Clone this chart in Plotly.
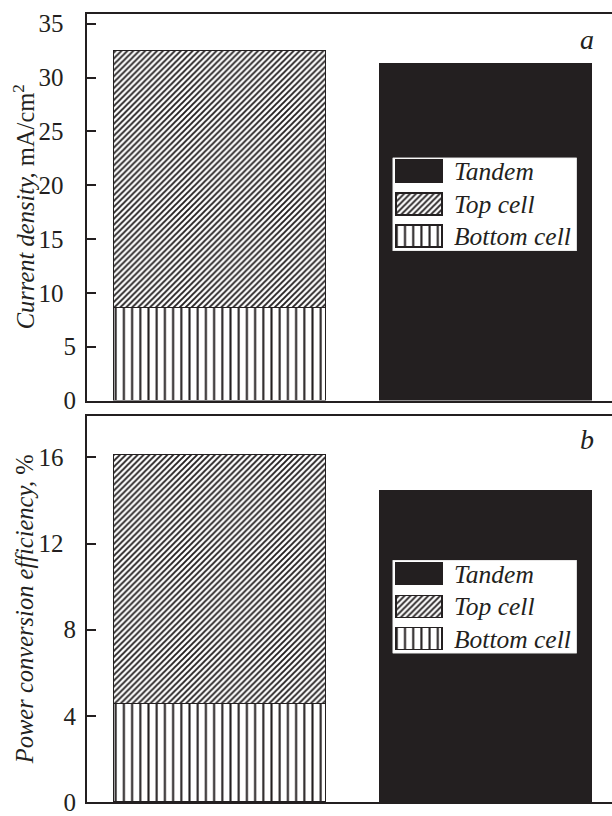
import plotly.graph_objects as go

# ---- data ----
panels = ["a", "b"]
categories = [0, 1]  # 0: single-junction stack (bottom + top), 1: tandem
bottom_cell = [8.6, 4.55]      # mA/cm2 , %
top_cell = [23.9, 11.55]       # stacked above bottom cell
tandem = [31.3, 14.4]
y_titles = ["<i>Current density,</i> mA/cm<sup>2</sup>", "<i>Power conversion efficiency,</i> %"]
y_ranges = [[0, 35.9], [0, 17.9]]
y_tickvals = [[0, 5, 10, 15, 20, 25, 30, 35], [0, 4, 8, 12, 16]]
y_ticktext = [["0", "5", "10\u2002", "15\u2002", "20\u2002", "25\u2002", "30\u2002", "35\u2002"],
              ["0", "4", "8", "12\u2002", "16\u2002"]]
legend_names = ["Tandem", "Top cell", "Bottom cell"]

INK = "#231f20"
FONT = "Liberation Serif"

W, H = 612, 816
ML, MR, MT, MB = 87, 0, 14, 7
PW = W - ML - MR
PH = H - MT - MB

def py(pix):
    return (H - MB - pix) / PH

def px(pix):
    return (pix - ML) / PW

panel_dom = [[py(404), py(14)], [py(809), py(420)]]
legend_box_top = [159, 565]
legend_box_h = 94
legend_x = [392.7, 576.7]

hatch_top = dict(shape="/", size=4.2, solidity=0.45, fgcolor=INK, bgcolor="white", fillmode="replace")
hatch_bottom = dict(shape="|", size=8.2, solidity=0.25, fgcolor=INK, bgcolor="white", fillmode="replace")
bar_line = dict(color=INK, width=1.5)

fig = go.Figure()

for i in range(2):
    xa = "x" if i == 0 else "x2"
    ya = "y" if i == 0 else "y2"
    fig.add_trace(go.Bar(x=[categories[0]], y=[bottom_cell[i]], width=0.8, xaxis=xa, yaxis=ya,
                         marker=dict(color="white", pattern=hatch_bottom, line=bar_line), showlegend=False))
    fig.add_trace(go.Bar(x=[categories[0]], y=[top_cell[i]], width=0.8, xaxis=xa, yaxis=ya,
                         marker=dict(color="white", pattern=hatch_top, line=bar_line), showlegend=False))
    fig.add_trace(go.Bar(x=[categories[1]], y=[tandem[i]], width=0.8, xaxis=xa, yaxis=ya,
                         marker=dict(color=INK, line=bar_line), showlegend=False))

    # custom legend in an inset subplot
    lx = "x3" if i == 0 else "x4"
    ly = "y3" if i == 0 else "y4"
    rows = [14.2, 47.2, 79.9]
    styles = [dict(color=INK, line=bar_line),
              dict(color="white", pattern=hatch_top, line=bar_line),
              dict(color="white", pattern=hatch_bottom, line=bar_line)]
    for r, st, nm in zip(rows, styles, legend_names):
        fig.add_trace(go.Bar(y=[r], x=[46], base=[4.3], orientation="h", width=22.5,
                             xaxis=lx, yaxis=ly, marker=st, showlegend=False, name=nm))
        fig.add_annotation(x=59, y=r, xref=lx, yref=ly, text="<i>%s</i>" % nm, showarrow=False,
                           xanchor="left", yanchor="middle",
                           font=dict(family=FONT, size=25.5, color=INK))
    fig.add_shape(type="rect", xref=lx, yref=ly, x0=0, x1=184, y0=0, y1=legend_box_h,
                  fillcolor="white", line=dict(color="#dddddd", width=1), layer="below")

axis_common = dict(showline=True, linecolor=INK, linewidth=2)
tick_common = dict(ticks="inside", ticklen=9, tickwidth=1.5, tickcolor=INK, ticklabelstandoff=4,
                   showgrid=False, zeroline=False, tickfont=dict(family=FONT, size=25, color=INK))
fig.update_layout(
    width=W, height=H, margin=dict(l=ML, r=MR, t=MT, b=MB),
    paper_bgcolor="white", plot_bgcolor="white", barmode="stack", bargap=0,
    font=dict(family=FONT, size=22, color=INK),
    xaxis=dict(domain=[0, 1], anchor="y", range=[-0.5, 1.4737], showticklabels=False, ticks="",
               showgrid=False, zeroline=False, mirror=True, **axis_common),
    yaxis=dict(domain=panel_dom[0], anchor="x", range=y_ranges[0], tickvals=y_tickvals[0],
               ticktext=y_ticktext[0], **tick_common, **axis_common),
    xaxis2=dict(domain=[0, 1], anchor="y2", range=[-0.5, 1.4737], showticklabels=False, ticks="",
                showgrid=False, zeroline=False, mirror=True, **axis_common),
    yaxis2=dict(domain=panel_dom[1], anchor="x2", range=y_ranges[1], tickvals=y_tickvals[1],
                ticktext=y_ticktext[1], **tick_common, **axis_common),
    xaxis3=dict(domain=[px(legend_x[0]), px(legend_x[1])], anchor="y3", range=[0, 184], visible=False),
    yaxis3=dict(domain=[py(legend_box_top[0] + legend_box_h), py(legend_box_top[0])], anchor="x3",
                range=[legend_box_h, 0], visible=False),
    xaxis4=dict(domain=[px(legend_x[0]), px(legend_x[1])], anchor="y4", range=[0, 184], visible=False),
    yaxis4=dict(domain=[py(legend_box_top[1] + legend_box_h), py(legend_box_top[1])], anchor="x4",
                range=[legend_box_h, 0], visible=False),
)

# axis titles and panel letters
for i in range(2):
    d = panel_dom[i]
    fig.add_annotation(x=px(24), y=(d[0] + d[1]) / 2, xref="paper", yref="paper", text=y_titles[i],
                       textangle=-90, showarrow=False, xanchor="center", yanchor="middle",
                       font=dict(family=FONT, size=24.5, color=INK))
fig.add_annotation(x=px(587), y=py(40), xref="paper", yref="paper", text="<i>a</i>", showarrow=False,
                   xanchor="center", yanchor="middle", font=dict(family=FONT, size=28, color=INK))
fig.add_annotation(x=px(587), y=py(443), xref="paper", yref="paper", text="<i>b</i>", showarrow=False,
                   xanchor="center", yanchor="middle", font=dict(family=FONT, size=28, color=INK))

fig.write_html("out.html", config={"displayModeBar": False},
               post_script="document.body.style.margin='0';document.body.style.overflow='hidden';")
